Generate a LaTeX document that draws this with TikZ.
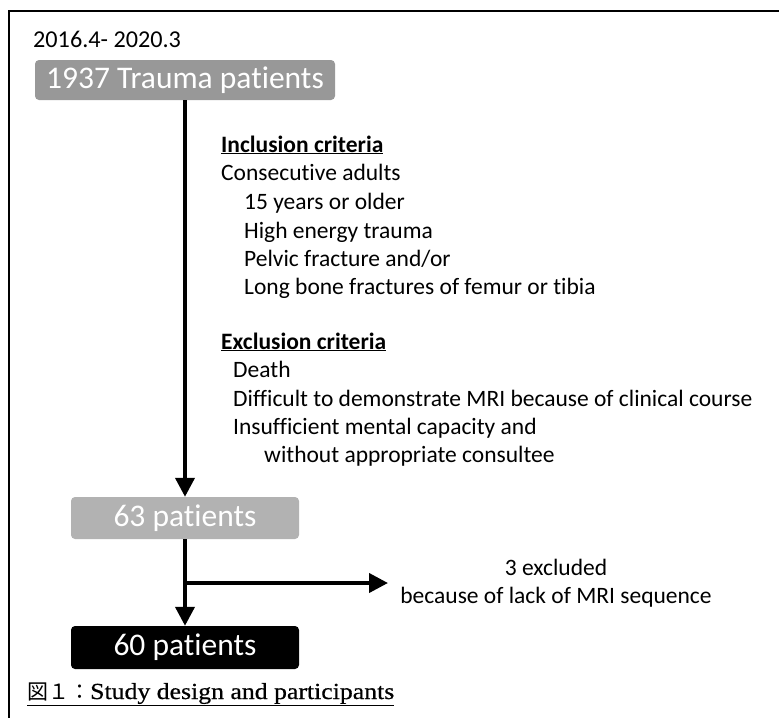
\documentclass[tikz,border=0pt]{standalone}
\usepackage{fontspec}
\setmainfont{Carlito}[Ligatures=NoCommon]
\newfontfamily\capfont{Liberation Serif}[FakeStretch=1.12,FakeBold=0.6]
\newfontfamily\cjkfont{Noto Sans CJK JP}
\usetikzlibrary{arrows.meta}
\definecolor{graya}{RGB}{152,152,152}
\definecolor{grayb}{RGB}{178,178,178}
\tikzset{
  pbox/.style={rounded corners=4pt, minimum width=228pt, minimum height=42pt, text=white, font=\fontsize{31.5}{36}\selectfont, inner sep=0pt},
  crit/.style={anchor=base west, inner sep=0pt, font=\fontsize{23.5}{28}\selectfont},
  arr/.style={line width=4pt, -{Triangle[width=19pt,length=19pt]}},
  frame/.style={line width=1.8pt}
}
\begin{document}
\begin{tikzpicture}[x=1pt,y=-1pt]
\useasboundingbox (0,0) rectangle (779,718);
\draw[frame] (779,11) -- (9,11) -- (9,718);
\node[anchor=base west, inner sep=0pt, font=\fontsize{24.2}{28}\selectfont] (date) at (33,47.5) {2016.4- 2020.3};
\node[pbox, fill=graya, minimum width=300pt, minimum height=40pt] (b1) at (185,80) {1937 Trauma patients};
\node[pbox, fill=grayb] (b2) at (185,518) {63 patients};
\node[pbox, fill=black, minimum height=43pt] (b3) at (185,647.5) {60 patients};
\node[crit] (inc) at (221,152) {\textbf{\underline{Inclusion criteria}}};
\node[crit] (i1) at (221,180) {Consecutive adults};
\node[crit] (i2) at (244,209) {15 years or older};
\node[crit] (i3) at (244,238) {High energy trauma};
\node[crit] (i4) at (244,266) {Pelvic fracture and/or};
\node[crit] (i5) at (244,294) {Long bone fractures of femur or tibia};
\node[crit] (exc) at (221,349) {\textbf{\underline{Exclusion criteria}}};
\node[crit] (e1) at (233,377) {Death};
\node[crit] (e2) at (233,406) {Difficult to demonstrate MRI because of clinical course};
\node[crit] (e3) at (233,434) {Insufficient mental capacity and};
\node[crit] (e4) at (264,462) {without appropriate consultee};
\node[align=center, inner sep=0pt, font=\fontsize{23.5}{28}\selectfont] (ex) at (556,583) {3 excluded\\because of lack of MRI sequence};
\coordinate (br) at (185,583);
\coordinate (extip) at (388,583);
\draw[arr] (b1.south) -- (b2.north);
\draw[arr] (b2.south) -- (b3.north);
\draw[arr] (br) -- (extip);
\node[anchor=base west, inner sep=0pt, font=\capfont\fontsize{23}{26}\selectfont] (cap) at (27,699) {\underline{{\cjkfont\fontsize{21}{26}\selectfont 図１：}Study design and participants}};
\end{tikzpicture}
\end{document}
